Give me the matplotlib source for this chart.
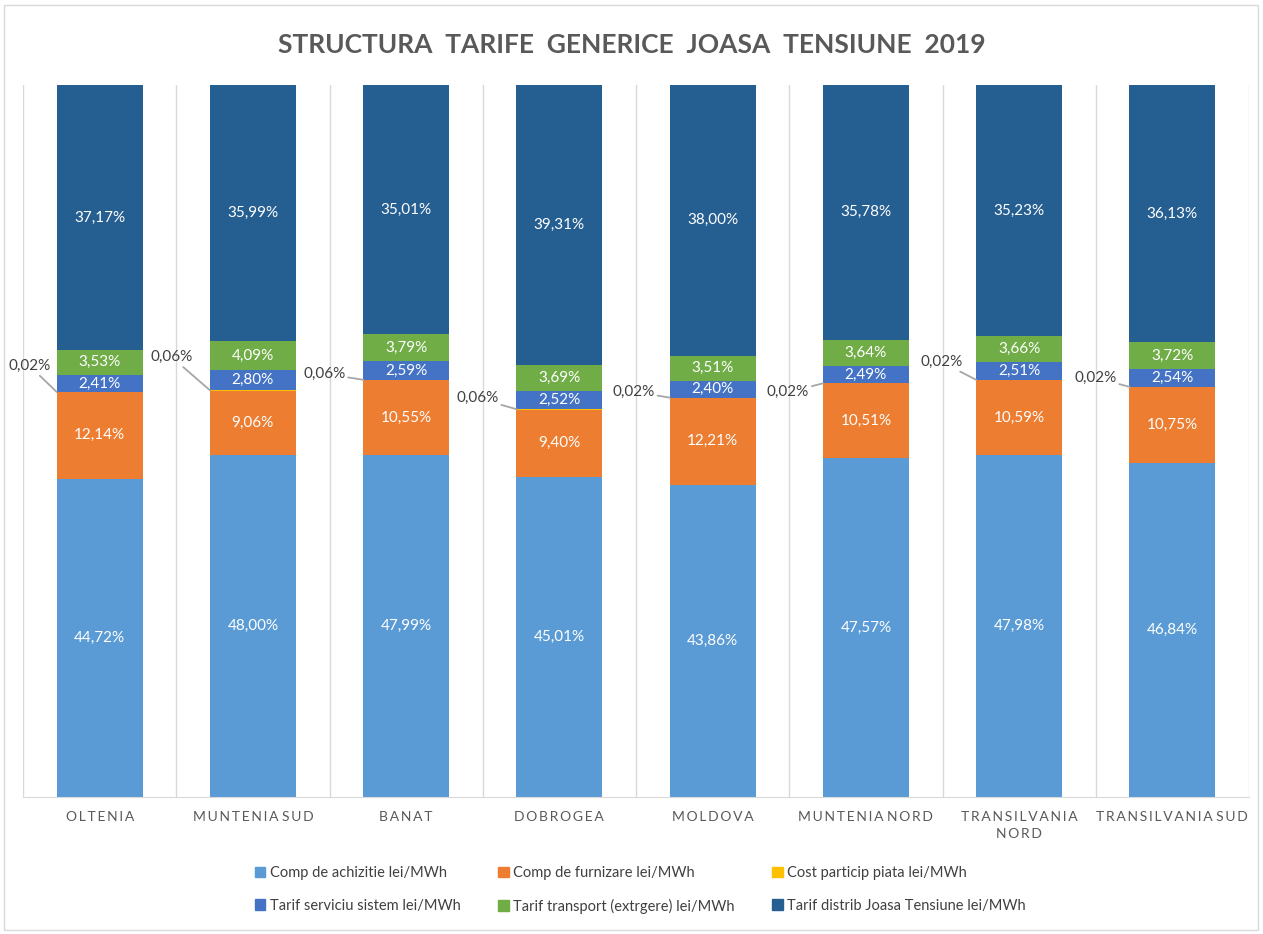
import matplotlib
matplotlib.use("Agg")
import matplotlib.pyplot as plt
from matplotlib.patches import Rectangle, Patch
import numpy as np

# data (procente)
regiuni = ["OLTENIA", "MUNTENIA SUD", "BANAT", "DOBROGEA", "MOLDOVA",
           "MUNTENIA NORD", "TRANSILVANIA\nNORD", "TRANSILVANIA SUD"]
comp_achizitie = [44.72, 48.00, 47.99, 45.01, 43.86, 47.57, 47.98, 46.84]
comp_furnizare = [12.14, 9.06, 10.55, 9.40, 12.21, 10.51, 10.59, 10.75]
cost_particip = [0.02, 0.06, 0.06, 0.06, 0.02, 0.02, 0.02, 0.02]
tarif_serviciu = [2.41, 2.80, 2.59, 2.52, 2.40, 2.49, 2.51, 2.54]
tarif_transport = [3.53, 4.09, 3.79, 3.69, 3.51, 3.64, 3.66, 3.72]
tarif_distrib = [37.17, 35.99, 35.01, 39.31, 38.00, 35.78, 35.23, 36.13]

serii = [
    ("Comp de achizitie lei/MWh", comp_achizitie, "#5B9BD5"),
    ("Comp de furnizare lei/MWh", comp_furnizare, "#ED7D31"),
    ("Cost particip piata lei/MWh", cost_particip, "#FFC000"),
    ("Tarif serviciu sistem lei/MWh", tarif_serviciu, "#4472C4"),
    ("Tarif transport (extrgere) lei/MWh", tarif_transport, "#70AD47"),
    ("Tarif distrib Joasa Tensiune lei/MWh", tarif_distrib, "#255E91"),
]

# pozitii etichete externe (pixeli fata de marginea barei)
offset_etichete = [(-27, 26), (-38, 33), (-39, 6), (-39, 11),
                   (-36, 6), (-35, -9), (-35, 18), (-34, 9)]

plt.rcParams['font.family'] = ['Lato', 'DejaVu Sans']

fig = plt.figure(figsize=(12.63, 9.34), dpi=100)
ax = fig.add_axes([23/1263, 1 - 797/934, (1249 - 23)/1263, (797 - 85)/934])

x = np.arange(len(regiuni))
latime = 0.56
baza = np.zeros(len(regiuni))
for nume, vals, culoare in serii:
    vals = np.array(vals)
    ax.bar(x, vals, latime, bottom=baza, color=culoare, label=nume)
    if nume.startswith("Cost"):
        for i, v in enumerate(vals):
            ax.annotate(f"{v:.2f}".replace('.', ',') + "%",
                        xy=(x[i] - latime/2, baza[i] + v),
                        xytext=offset_etichete[i], textcoords='offset pixels',
                        ha='center', va='center', fontsize=11, color='#404040',
                        arrowprops=dict(arrowstyle='-', color='#A6A6A6', lw=1.3,
                                        shrinkA=0, shrinkB=0))
    else:
        for i, v in enumerate(vals):
            ax.text(x[i], baza[i] + v/2, f"{v:.2f}".replace('.', ',') + "%",
                    ha='center', va='center', fontsize=11, color='white')
    baza += vals

ax.set_xlim(-0.5, len(regiuni) - 0.5)
ax.set_ylim(0, 100)
ax.set_yticks([])
for pos in np.arange(-0.5, len(regiuni), 1):
    ax.axvline(pos, color='#D9D9D9', lw=1, zorder=0)
for s in ['top', 'left', 'right']:
    ax.spines[s].set_visible(False)
ax.spines['bottom'].set_color('#D9D9D9')
ax.set_xticks(x)
ax.set_xticklabels(["\u2009".join(r).replace("\u2009 \u2009", "\u2009\u2009")
                    .replace("\u2009\n\u2009", "\n") for r in regiuni],
                   fontsize=10, color='#595959', linespacing=1.55)
ax.tick_params(axis='x', length=0, pad=10)

fig.text(0.5, 1 - 45/934, "STRUCTURA  TARIFE  GENERICE  JOASA  TENSIUNE  2019",
         ha='center', va='center', fontsize=19, fontweight='bold', color='#595959')

ordine = [0, 3, 1, 4, 2, 5]
handles = [Patch(color=serii[k][2]) for k in ordine]
etichete = [serii[k][0] for k in ordine]
fig.legend(handles, etichete, ncol=3, loc='center',
           bbox_to_anchor=(0.507, 1 - 890/934), frameon=False, fontsize=10.5,
           labelcolor='#404040', handlelength=0.7, handleheight=0.7,
           handletextpad=0.3, columnspacing=2.6, labelspacing=1.25)

fig.patches.append(Rectangle((4/1263, 4/934), 1 - 9/1263, 1 - 9/934,
                             transform=fig.transFigure, fill=False,
                             edgecolor='#D9D9D9', lw=1))

fig.savefig("out.png", dpi=100)
